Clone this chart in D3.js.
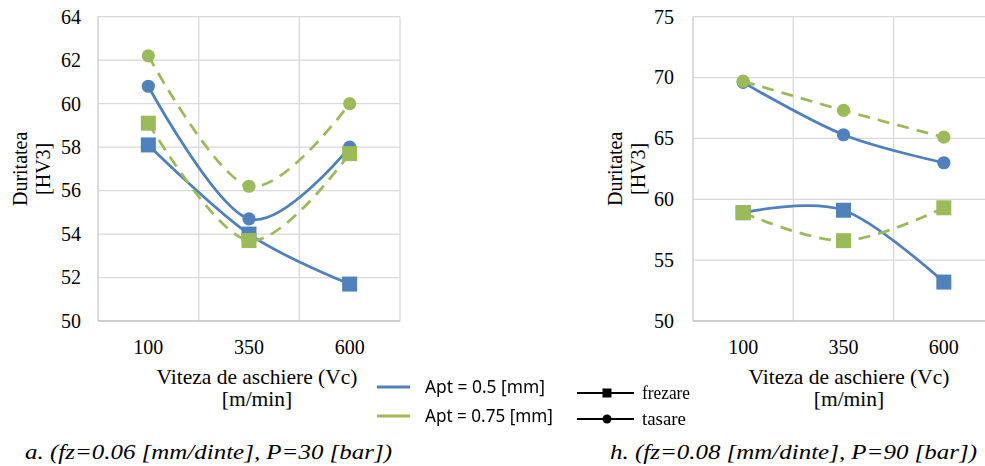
<!DOCTYPE html>
<html>
<head>
<meta charset="utf-8">
<script src="https://cdn.jsdelivr.net/npm/d3@7"></script>
<style>
  html, body { margin: 0; padding: 0; background: #fff; }
  svg { display: block; }
  text { font-family: "Liberation Serif", "Times New Roman", Times, serif; fill: #000; }
</style>
</head>
<body>
<svg id="chart" width="985" height="466"></svg>
<script>
// Cutting speed categories (shared by both panels)
const categories = ["100", "350", "600"];

// Panel a: fz = 0.06 mm/dinte, P = 30 bar
const aTicks = [50, 52, 54, 56, 58, 60, 62, 64];
const aFrezare05 = [58.1, 54.0, 51.7];
const aTasare05 = [60.8, 54.7, 58.0];
const aFrezare075 = [59.1, 53.7, 57.7];
const aTasare075 = [62.2, 56.2, 60.0];

// Panel h: fz = 0.08 mm/dinte, P = 90 bar
const hTicks = [50, 55, 60, 65, 70, 75];
const hFrezare05 = [58.9, 59.1, 53.2];
const hTasare05 = [69.6, 65.3, 63.0];
const hFrezare075 = [58.9, 56.6, 59.3];
const hTasare075 = [69.7, 67.3, 65.1];

const legendDepth = ["Apt = 0.5 [mm]", "Apt = 0.75 [mm]"];
const legendProcess = ["frezare", "tasare"];
const yTitle = ["Duritatea", "[HV3]"];
const xTitle = ["Viteza de aschiere (Vc)", "[m/min]"];
const captions = ["a. (fz=0.06 [mm/dinte], P=30 [bar])", "h. (fz=0.08 [mm/dinte], P=90 [bar])"];

const BLUE = "#4F81BD", GREEN = "#9BBB59";
const svg = d3.select("#chart");

const defs = svg.append("defs");
defs.append("filter").attr("id", "soft")
  .append("feGaussianBlur").attr("stdDeviation", 0.55);

function drawPanel(opt) {
  const g = svg.append("g");
  const x = d3.scaleBand().domain(categories).range([opt.x0, opt.x1]).padding(0);
  const y = d3.scaleLinear().domain([opt.ticks[0], opt.ticks[opt.ticks.length - 1]])
    .range([opt.yBottom, opt.yTop]);
  const cx = d => x(d) + x.bandwidth() / 2;

  // horizontal grid
  g.append("g").selectAll("line").data(opt.ticks.slice(1)).join("line")
    .attr("x1", opt.x0).attr("x2", opt.x1)
    .attr("y1", d => y(d)).attr("y2", d => y(d))
    .attr("stroke", "#D9D9D9").attr("stroke-width", 1.3);
  // vertical grid at category boundaries
  g.append("g").selectAll("line").data(categories).join("line")
    .attr("x1", d => x(d) + x.bandwidth()).attr("x2", d => x(d) + x.bandwidth())
    .attr("y1", opt.yTop).attr("y2", opt.yBottom)
    .attr("stroke", "#D9D9D9").attr("stroke-width", 1.3);
  // axis lines
  g.append("line").attr("x1", opt.x0).attr("x2", opt.x0)
    .attr("y1", opt.yTop).attr("y2", opt.yBottom)
    .attr("stroke", "#D0D0D0").attr("stroke-width", 1.5);
  g.append("line").attr("x1", opt.x0).attr("x2", opt.x1)
    .attr("y1", opt.yBottom).attr("y2", opt.yBottom)
    .attr("stroke", "#BFBFBF").attr("stroke-width", 1.5);

  // y tick labels
  const ya = g.append("g").attr("transform", `translate(${opt.yLabelX},0)`)
    .call(d3.axisLeft(y).tickValues(opt.ticks).tickSize(0).tickPadding(0).tickFormat(d3.format("d")));
  ya.select(".domain").remove();
  ya.selectAll("text").attr("font-size", 20).attr("fill", "#000");

  // x tick labels
  const xa = g.append("g").attr("transform", `translate(0,${opt.yBottom + 19})`)
    .call(d3.axisBottom(x).tickSize(0).tickPadding(0));
  xa.select(".domain").remove();
  xa.selectAll("text").attr("font-size", 20).attr("fill", "#000");

  // y title (two rotated lines)
  const yMid = (opt.yTop + opt.yBottom) / 2;
  yTitle.forEach((t, i) => {
    g.append("text")
      .attr("transform", `translate(${opt.yTitleX + i * 23},${yMid}) rotate(-90)`)
      .attr("text-anchor", "middle").attr("font-size", 20).text(t);
  });

  // x title
  xTitle.forEach((t, i) => {
    g.append("text").attr("x", opt.xTitleX).attr("y", 384 + i * 22)
      .attr("text-anchor", "middle").attr("font-size", 21.5).text(t);
  });

  // caption
  g.append("text").attr("x", opt.capX).attr("y", 459)
    .attr("font-size", 22).attr("font-style", "italic")
    .attr("textLength", 367).attr("lengthAdjust", "spacingAndGlyphs")
    .text(opt.caption);

  const line = d3.line().x((d, i) => cx(categories[i])).y(d => y(d))
    .curve(d3.curveCatmullRom.alpha(0));

  opt.series.forEach(s => {
    g.append("path").datum(s.values)
      .attr("d", line).attr("fill", "none")
      .attr("stroke", s.color).attr("stroke-width", 2.75)
      .attr("stroke-dasharray", s.dashed ? "12,8" : null)
      .attr("stroke-linecap", "butt");
    if (s.marker === "square") {
      g.append("g").selectAll("rect").data(s.values).join("rect")
        .attr("x", (d, i) => cx(categories[i]) - 7.5).attr("y", d => y(d) - 7.5)
        .attr("width", 15).attr("height", 15).attr("fill", s.color);
    } else {
      g.append("g").selectAll("circle").data(s.values).join("circle")
        .attr("cx", (d, i) => cx(categories[i])).attr("cy", d => y(d))
        .attr("r", 6.6).attr("fill", s.color);
    }
  });
}

drawPanel({
  x0: 98, x1: 400, yTop: 16.7, yBottom: 321, ticks: aTicks,
  yLabelX: 81, yTitleX: 27, xTitleX: 257, capX: 25, caption: captions[0],
  series: [
    { values: aFrezare05, color: BLUE, dashed: false, marker: "square" },
    { values: aTasare05, color: BLUE, dashed: false, marker: "circle" },
    { values: aFrezare075, color: GREEN, dashed: true, marker: "square" },
    { values: aTasare075, color: GREEN, dashed: true, marker: "circle" }
  ]
});

drawPanel({
  x0: 693, x1: 994, yTop: 16.7, yBottom: 321, ticks: hTicks,
  yLabelX: 674, yTitleX: 622, xTitleX: 849, capX: 610, caption: captions[1],
  series: [
    { values: hFrezare05, color: BLUE, dashed: false, marker: "square" },
    { values: hTasare05, color: BLUE, dashed: false, marker: "circle" },
    { values: hFrezare075, color: GREEN, dashed: true, marker: "square" },
    { values: hTasare075, color: GREEN, dashed: true, marker: "circle" }
  ]
});

// Legend
const leg = svg.append("g").attr("filter", "url(#soft)");
const depthColors = [BLUE, GREEN];
const depthY = [387, 416];
legendDepth.forEach((t, i) => {
  leg.append("line").attr("x1", 377).attr("x2", 410).attr("y1", depthY[i]).attr("y2", depthY[i])
    .attr("stroke", depthColors[i]).attr("stroke-width", 3);
  leg.append("text").attr("x", 425).attr("y", depthY[i]).attr("dy", "0.35em")
    .attr("font-size", 18).attr("fill", "#595959")
    .style("font-family", "'Noto Sans', sans-serif")
    .attr("textLength", i === 0 ? 120 : 128).attr("lengthAdjust", "spacingAndGlyphs")
    .text(t);
});
const procY = [393, 419];
legendProcess.forEach((t, i) => {
  leg.append("line").attr("x1", 577).attr("x2", 634).attr("y1", procY[i]).attr("y2", procY[i])
    .attr("stroke", "#000").attr("stroke-width", 2.2);
  if (i === 0) {
    leg.append("rect").attr("x", 607 - 4.5).attr("y", procY[i] - 4.5)
      .attr("width", 9).attr("height", 9).attr("fill", "#000");
  } else {
    leg.append("circle").attr("cx", 607).attr("cy", procY[i]).attr("r", 4.5).attr("fill", "#000");
  }
  leg.append("text").attr("x", 642).attr("y", procY[i]).attr("dy", "0.32em")
    .attr("font-size", 19).attr("fill", "#111")
    .attr("textLength", i === 0 ? 48 : 44).attr("lengthAdjust", "spacingAndGlyphs")
    .text(t);
});
</script>
</body>
</html>
